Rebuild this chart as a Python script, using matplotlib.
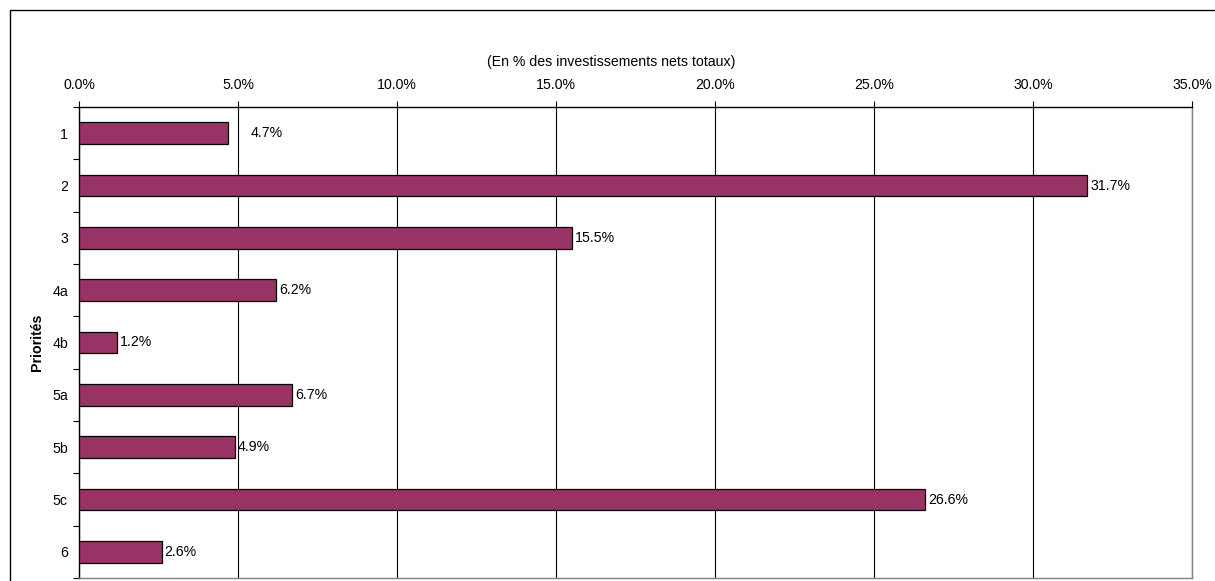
import matplotlib.pyplot as plt
from matplotlib.patches import Rectangle
from matplotlib.ticker import FuncFormatter, MultipleLocator, FixedLocator
import numpy as np

# priorities and their share of total net investment (%)
priorites = ["1", "2", "3", "4a", "4b", "5a", "5b", "5c", "6"]
parts = [4.7, 31.7, 15.5, 6.2, 1.2, 6.7, 4.9, 26.6, 2.6]

BAR_COLOR = "#993366"

plt.rcParams["font.family"] = ["Liberation Sans", "DejaVu Sans"]
plt.rcParams["font.size"] = 10.2

fig = plt.figure(figsize=(12.15, 5.81), dpi=100)
ax = fig.add_axes([79 / 1215, 3 / 581, (1192 - 79) / 1215, (578 - 107) / 581])

# outer chart frame (runs off right and bottom)
fig.patches.append(Rectangle((10 / 1215, -0.05), 1.2, 1 - 10 / 581 + 0.05,
                             transform=fig.transFigure, fill=False,
                             edgecolor="black", linewidth=1.0, zorder=0))

y = np.arange(len(priorites))
ax.barh(y, parts, height=0.42, color=BAR_COLOR, edgecolor="black",
        linewidth=0.9, zorder=3)

# value labels; the first one sits further out
for i, v in enumerate(parts):
    off = 22 if i == 0 else 3
    ax.annotate(f"{v:.1f}%", (v, i), xytext=(off, 0), textcoords="offset pixels",
                va="center", ha="left", zorder=4)

ax.set_xlim(0, 35)
ax.set_ylim(len(priorites) - 0.5, -0.5)
ax.xaxis.set_major_locator(MultipleLocator(5))
ax.xaxis.set_major_formatter(FuncFormatter(lambda v, p: f"{v:.1f}%"))
ax.xaxis.tick_top()
ax.tick_params(axis="x", length=4, width=0.8, pad=6.5, colors="black")
ax.grid(axis="x", color="black", linewidth=0.8, zorder=1)

ax.set_yticks(y)
ax.set_yticklabels(priorites)
ax.yaxis.set_minor_locator(FixedLocator(np.arange(-0.5, len(priorites), 1)))
ax.tick_params(axis="y", which="major", length=0, pad=8)
ax.tick_params(axis="y", which="minor", length=4, width=0.8)

for side in ["top", "left"]:
    ax.spines[side].set_color("black")
    ax.spines[side].set_linewidth(1.0)
for side in ["right", "bottom"]:
    ax.spines[side].set_color("#808080")
    ax.spines[side].set_linewidth(1.0)

ax.set_ylabel("Priorités", fontweight="bold")
ax.yaxis.set_label_coords(-35 / 1113, 0.5)

fig.text(611 / 1215, 1 - 62 / 581, "(En % des investissements nets totaux)",
         ha="center", va="center")

fig.savefig("out.png", dpi=100)
